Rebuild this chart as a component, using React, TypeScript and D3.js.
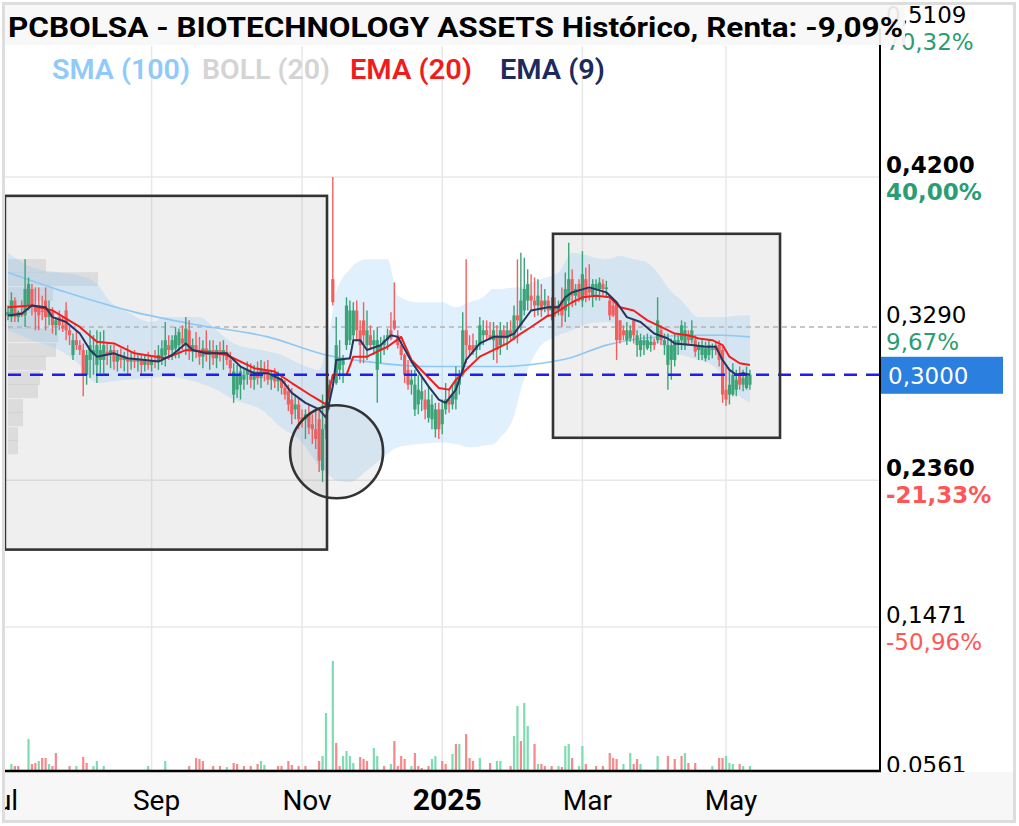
import React from 'react';
import * as d3 from 'd3';

// ---------- daily OHLC (trading-day index 0..217, Jul 2024 – May 2025) ----------
const openP = [
  0.336, 0.335, 0.345, 0.335, 0.338, 0.336, 0.342, 0.352, 0.342, 0.342,
  0.339, 0.345, 0.335, 0.338, 0.330, 0.335, 0.330, 0.339, 0.327, 0.312,
  0.321, 0.318, 0.315, 0.300, 0.309, 0.312, 0.306, 0.309, 0.309, 0.314,
  0.312, 0.315, 0.308, 0.312, 0.309, 0.310, 0.308, 0.310, 0.308, 0.309,
  0.306, 0.308, 0.306, 0.309, 0.308, 0.310, 0.312, 0.318, 0.315, 0.316,
  0.318, 0.322, 0.318, 0.327, 0.315, 0.318, 0.314, 0.311, 0.316, 0.312,
  0.315, 0.310, 0.315, 0.312, 0.314, 0.309, 0.288, 0.291, 0.294, 0.297,
  0.300, 0.302, 0.297, 0.302, 0.298, 0.303, 0.303, 0.297, 0.300, 0.296,
  0.297, 0.292, 0.290, 0.285, 0.279, 0.282, 0.274, 0.273, 0.276, 0.270,
  0.267, 0.273, 0.242, 0.267, 0.285, 0.358, 0.295, 0.303, 0.306, 0.318,
  0.321, 0.324, 0.339, 0.327, 0.333, 0.318, 0.324, 0.318, 0.303, 0.315,
  0.318, 0.321, 0.327, 0.333, 0.324, 0.318, 0.312, 0.303, 0.294, 0.279,
  0.282, 0.285, 0.285, 0.274, 0.273, 0.267, 0.279, 0.270, 0.279, 0.285,
  0.282, 0.285, 0.294, 0.300, 0.327, 0.318, 0.318, 0.315, 0.318, 0.324,
  0.327, 0.324, 0.321, 0.324, 0.318, 0.327, 0.322, 0.327, 0.322, 0.336,
  0.330, 0.339, 0.345, 0.348, 0.345, 0.342, 0.345, 0.342, 0.345, 0.339,
  0.342, 0.339, 0.345, 0.339, 0.345, 0.358, 0.348, 0.355, 0.345, 0.358,
  0.352, 0.348, 0.352, 0.352, 0.355, 0.352, 0.345, 0.342, 0.344, 0.333,
  0.327, 0.321, 0.322, 0.333, 0.318, 0.315, 0.318, 0.316, 0.318, 0.320,
  0.321, 0.327, 0.318, 0.306, 0.309, 0.309, 0.318, 0.321, 0.318, 0.324,
  0.321, 0.321, 0.315, 0.312, 0.310, 0.312, 0.315, 0.318, 0.318, 0.315,
  0.291, 0.288, 0.288, 0.291, 0.300, 0.294, 0.292, 0.294,
];
const highP = [
  0.342, 0.350, 0.347, 0.339, 0.345, 0.370, 0.359, 0.355, 0.353, 0.353,
  0.348, 0.353, 0.345, 0.341, 0.335, 0.339, 0.335, 0.344, 0.330, 0.325,
  0.327, 0.321, 0.319, 0.315, 0.327, 0.324, 0.327, 0.326, 0.327, 0.319,
  0.318, 0.318, 0.315, 0.316, 0.314, 0.318, 0.314, 0.315, 0.312, 0.312,
  0.312, 0.314, 0.312, 0.315, 0.318, 0.321, 0.332, 0.324, 0.324, 0.329,
  0.328, 0.330, 0.335, 0.333, 0.322, 0.326, 0.323, 0.321, 0.327, 0.321,
  0.321, 0.318, 0.320, 0.321, 0.318, 0.314, 0.307, 0.306, 0.305, 0.304,
  0.308, 0.307, 0.306, 0.308, 0.309, 0.308, 0.309, 0.303, 0.304, 0.302,
  0.300, 0.297, 0.294, 0.292, 0.288, 0.286, 0.279, 0.279, 0.282, 0.276,
  0.279, 0.279, 0.288, 0.273, 0.297, 0.420, 0.335, 0.321, 0.312, 0.347,
  0.345, 0.344, 0.345, 0.333, 0.344, 0.339, 0.330, 0.327, 0.329, 0.323,
  0.324, 0.328, 0.338, 0.356, 0.327, 0.321, 0.313, 0.309, 0.303, 0.303,
  0.300, 0.298, 0.291, 0.293, 0.288, 0.283, 0.283, 0.285, 0.295, 0.291,
  0.294, 0.305, 0.303, 0.338, 0.370, 0.324, 0.325, 0.321, 0.335, 0.333,
  0.333, 0.332, 0.332, 0.330, 0.332, 0.330, 0.332, 0.333, 0.342, 0.370,
  0.374, 0.371, 0.364, 0.361, 0.359, 0.358, 0.355, 0.352, 0.348, 0.347,
  0.347, 0.345, 0.353, 0.362, 0.380, 0.364, 0.355, 0.358, 0.375, 0.365,
  0.367, 0.358, 0.358, 0.359, 0.358, 0.357, 0.347, 0.345, 0.344, 0.333,
  0.330, 0.332, 0.330, 0.333, 0.327, 0.325, 0.324, 0.325, 0.324, 0.322,
  0.347, 0.330, 0.325, 0.325, 0.322, 0.325, 0.324, 0.333, 0.332, 0.327,
  0.333, 0.324, 0.320, 0.321, 0.320, 0.321, 0.319, 0.320, 0.321, 0.317,
  0.305, 0.303, 0.307, 0.303, 0.305, 0.303, 0.305, 0.303,
];
const lowP = [
  0.333, 0.332, 0.332, 0.332, 0.335, 0.329, 0.339, 0.336, 0.327, 0.327,
  0.333, 0.327, 0.330, 0.325, 0.324, 0.327, 0.326, 0.321, 0.318, 0.309,
  0.315, 0.312, 0.287, 0.294, 0.298, 0.300, 0.295, 0.301, 0.301, 0.306,
  0.304, 0.303, 0.302, 0.304, 0.302, 0.300, 0.303, 0.304, 0.302, 0.300,
  0.302, 0.303, 0.302, 0.304, 0.303, 0.306, 0.305, 0.309, 0.309, 0.310,
  0.310, 0.315, 0.312, 0.309, 0.308, 0.310, 0.306, 0.304, 0.308, 0.303,
  0.306, 0.304, 0.308, 0.303, 0.306, 0.300, 0.283, 0.286, 0.285, 0.291,
  0.294, 0.292, 0.291, 0.294, 0.292, 0.296, 0.294, 0.291, 0.292, 0.290,
  0.288, 0.285, 0.278, 0.270, 0.273, 0.267, 0.268, 0.261, 0.264, 0.258,
  0.255, 0.241, 0.235, 0.261, 0.279, 0.342, 0.294, 0.297, 0.295, 0.315,
  0.318, 0.319, 0.321, 0.307, 0.307, 0.309, 0.315, 0.312, 0.283, 0.307,
  0.312, 0.315, 0.321, 0.327, 0.316, 0.309, 0.295, 0.291, 0.288, 0.275,
  0.276, 0.278, 0.273, 0.271, 0.267, 0.262, 0.261, 0.264, 0.276, 0.277,
  0.279, 0.279, 0.288, 0.299, 0.307, 0.312, 0.312, 0.310, 0.315, 0.318,
  0.321, 0.321, 0.309, 0.307, 0.312, 0.318, 0.315, 0.321, 0.321, 0.319,
  0.327, 0.336, 0.339, 0.339, 0.335, 0.336, 0.335, 0.338, 0.335, 0.333,
  0.335, 0.336, 0.329, 0.332, 0.335, 0.341, 0.342, 0.344, 0.341, 0.344,
  0.345, 0.341, 0.345, 0.345, 0.348, 0.347, 0.333, 0.335, 0.309, 0.319,
  0.321, 0.318, 0.320, 0.319, 0.311, 0.311, 0.312, 0.315, 0.314, 0.315,
  0.319, 0.318, 0.312, 0.291, 0.297, 0.305, 0.312, 0.315, 0.315, 0.318,
  0.319, 0.311, 0.309, 0.309, 0.308, 0.309, 0.310, 0.312, 0.305, 0.283,
  0.281, 0.282, 0.287, 0.287, 0.291, 0.290, 0.291, 0.291,
];
const closeP = [
  0.338, 0.345, 0.335, 0.338, 0.336, 0.352, 0.355, 0.342, 0.338, 0.336,
  0.338, 0.335, 0.339, 0.330, 0.333, 0.330, 0.328, 0.327, 0.324, 0.321,
  0.318, 0.315, 0.300, 0.312, 0.318, 0.315, 0.318, 0.315, 0.318, 0.312,
  0.315, 0.308, 0.312, 0.309, 0.311, 0.308, 0.310, 0.308, 0.309, 0.306,
  0.309, 0.306, 0.309, 0.308, 0.312, 0.316, 0.321, 0.315, 0.321, 0.324,
  0.326, 0.319, 0.328, 0.315, 0.318, 0.314, 0.311, 0.316, 0.312, 0.315,
  0.310, 0.315, 0.312, 0.315, 0.309, 0.304, 0.302, 0.300, 0.302, 0.300,
  0.303, 0.297, 0.302, 0.298, 0.304, 0.300, 0.297, 0.300, 0.296, 0.298,
  0.292, 0.288, 0.282, 0.276, 0.282, 0.273, 0.272, 0.276, 0.268, 0.267,
  0.261, 0.248, 0.267, 0.270, 0.294, 0.344, 0.318, 0.310, 0.309, 0.342,
  0.339, 0.339, 0.327, 0.318, 0.324, 0.327, 0.318, 0.321, 0.321, 0.318,
  0.321, 0.324, 0.322, 0.328, 0.318, 0.312, 0.300, 0.294, 0.297, 0.294,
  0.291, 0.290, 0.279, 0.285, 0.282, 0.279, 0.267, 0.279, 0.285, 0.282,
  0.288, 0.297, 0.300, 0.327, 0.318, 0.315, 0.314, 0.318, 0.330, 0.327,
  0.324, 0.322, 0.327, 0.315, 0.327, 0.322, 0.327, 0.324, 0.336, 0.333,
  0.345, 0.352, 0.355, 0.345, 0.342, 0.348, 0.339, 0.345, 0.339, 0.342,
  0.339, 0.342, 0.336, 0.352, 0.358, 0.348, 0.352, 0.347, 0.361, 0.348,
  0.350, 0.355, 0.355, 0.356, 0.352, 0.353, 0.336, 0.336, 0.321, 0.321,
  0.324, 0.327, 0.327, 0.324, 0.324, 0.321, 0.321, 0.321, 0.320, 0.318,
  0.333, 0.321, 0.321, 0.318, 0.318, 0.321, 0.321, 0.330, 0.327, 0.321,
  0.327, 0.314, 0.318, 0.318, 0.316, 0.318, 0.316, 0.315, 0.309, 0.288,
  0.285, 0.294, 0.300, 0.297, 0.294, 0.298, 0.300, 0.300,
];

// ---------- volume (day index, volume, 1 = up / 0 = down) ----------
const volDay = [1, 2, 3, 6, 7, 8, 9, 10, 11, 12, 13, 14, 18, 20, 22, 23, 25, 26, 28, 41, 46, 53, 55, 56, 57, 60, 62, 64, 66, 67, 69, 71, 73, 74, 75, 79, 80, 82, 83, 85, 87, 91, 92, 93, 95, 96, 97, 98, 99, 100, 101, 103, 104, 105, 107, 108, 110, 112, 113, 114, 115, 116, 118, 119, 120, 121, 123, 124, 125, 127, 128, 130, 131, 132, 134, 135, 136, 138, 141, 143, 144, 147, 148, 149, 150, 151, 152, 154, 155, 156, 157, 159, 161, 162, 163, 164, 165, 167, 168, 169, 172, 174, 176, 177, 178, 180, 182, 183, 184, 185, 190, 193, 195, 197, 198, 199, 201, 206, 208, 209, 210, 211, 212, 214, 215, 217];
const volAmt = [7, 5, 5, 32, 7, 8, 10, 13, 13, 7, 5, 18, 5, 5, 14, 8, 5, 10, 5, 5, 10, 5, 13, 12, 10, 5, 5, 4, 8, 7, 5, 5, 7, 10, 6, 5, 5, 10, 6, 5, 5, 10, 15, 58, 110, 28, 5, 15, 20, 15, 8, 14, 12, 10, 23, 15, 5, 7, 30, 5, 15, 12, 5, 18, 5, 3, 5, 12, 15, 10, 7, 17, 27, 27, 37, 13, 10, 13, 8, 10, 10, 5, 35, 65, 30, 68, 45, 27, 7, 7, 5, 5, 5, 4, 25, 27, 13, 5, 25, 7, 5, 5, 18, 13, 12, 7, 18, 7, 12, 7, 15, 15, 12, 15, 18, 8, 8, 5, 13, 13, 15, 8, 7, 7, 5, 5];
const volUp = [1, 0, 0, 1, 0, 0, 1, 0, 0, 1, 0, 0, 0, 1, 0, 0, 1, 1, 1, 1, 1, 0, 0, 0, 0, 0, 0, 1, 0, 0, 0, 0, 0, 1, 1, 0, 0, 0, 0, 0, 0, 0, 1, 1, 1, 0, 0, 1, 1, 1, 1, 0, 0, 0, 1, 1, 0, 1, 0, 0, 0, 0, 1, 0, 0, 0, 0, 1, 1, 0, 0, 1, 0, 1, 0, 0, 0, 1, 0, 1, 1, 0, 1, 1, 0, 1, 1, 0, 1, 0, 0, 0, 1, 0, 1, 1, 0, 1, 1, 0, 0, 0, 0, 0, 0, 1, 1, 0, 0, 1, 1, 0, 0, 0, 1, 0, 0, 1, 0, 0, 1, 1, 1, 0, 1, 1];

// ---------- indicators ----------
const ema9Day = [0, 4, 7, 11, 13, 17, 21, 24, 26, 31, 35, 40, 44, 48, 52, 54, 58, 64, 68, 72, 76, 80, 83, 87, 91, 93, 95, 96, 100, 101, 103, 105, 109, 112, 114, 118, 123, 126, 128, 131, 134, 138, 142, 146, 148, 153, 158, 161, 163, 165, 170, 175, 178, 181, 185, 189, 193, 195, 200, 204, 207, 209, 211, 213, 215, 217];
const ema9Val = [0.336, 0.337, 0.342, 0.341, 0.335, 0.332, 0.325, 0.315, 0.311, 0.313, 0.310, 0.309, 0.308, 0.312, 0.319, 0.315, 0.313, 0.313, 0.305, 0.301, 0.301, 0.297, 0.289, 0.283, 0.279, 0.274, 0.293, 0.309, 0.310, 0.321, 0.321, 0.315, 0.318, 0.324, 0.323, 0.308, 0.293, 0.285, 0.283, 0.291, 0.309, 0.319, 0.323, 0.323, 0.325, 0.339, 0.341, 0.341, 0.347, 0.350, 0.353, 0.350, 0.344, 0.335, 0.332, 0.325, 0.322, 0.319, 0.318, 0.317, 0.317, 0.309, 0.303, 0.300, 0.301, 0.300];
const ema20Day = [0, 7, 13, 21, 26, 31, 37, 46, 52, 58, 64, 72, 78, 83, 89, 93, 95, 99, 101, 105, 108, 111, 115, 118, 126, 129, 131, 134, 138, 146, 150, 153, 158, 159, 165, 168, 172, 176, 179, 183, 187, 191, 195, 199, 202, 206, 209, 211, 214, 217];
const ema20Val = [0.341, 0.342, 0.339, 0.329, 0.320, 0.319, 0.313, 0.310, 0.315, 0.314, 0.312, 0.304, 0.302, 0.295, 0.287, 0.282, 0.300, 0.300, 0.311, 0.311, 0.314, 0.317, 0.323, 0.309, 0.292, 0.291, 0.297, 0.303, 0.311, 0.319, 0.325, 0.329, 0.336, 0.336, 0.344, 0.347, 0.348, 0.347, 0.341, 0.339, 0.333, 0.329, 0.325, 0.324, 0.322, 0.321, 0.318, 0.311, 0.307, 0.306];
const sma100Day = [0, 17, 37, 56, 76, 93, 105, 124, 144, 156, 164, 175, 185, 202, 209, 217];
const sma100Val = [0.362, 0.350, 0.338, 0.330, 0.323, 0.312, 0.308, 0.305, 0.305, 0.307, 0.310, 0.318, 0.322, 0.324, 0.324, 0.323];
const bollDay = [0, 7, 15, 21, 26, 30, 35, 42, 46, 56, 61, 66, 74, 80, 85, 91, 94, 96, 100, 105, 111, 114, 120, 127, 131, 135, 139, 142, 144, 148, 150, 152, 156, 159, 161, 165, 168, 175, 179, 183, 187, 191, 193, 197, 202, 206, 209, 214, 217];
const bollUpper = [0.374, 0.365, 0.362, 0.360, 0.355, 0.344, 0.338, 0.332, 0.335, 0.335, 0.327, 0.319, 0.315, 0.312, 0.307, 0.303, 0.327, 0.350, 0.364, 0.370, 0.370, 0.348, 0.344, 0.344, 0.341, 0.344, 0.347, 0.352, 0.352, 0.353, 0.353, 0.355, 0.358, 0.360, 0.362, 0.374, 0.373, 0.370, 0.372, 0.370, 0.368, 0.359, 0.353, 0.345, 0.335, 0.335, 0.335, 0.336, 0.336];
const bollLower = [0.327, 0.321, 0.315, 0.306, 0.295, 0.296, 0.297, 0.298, 0.299, 0.295, 0.291, 0.285, 0.279, 0.268, 0.261, 0.245, 0.239, 0.236, 0.235, 0.242, 0.252, 0.256, 0.258, 0.259, 0.258, 0.256, 0.257, 0.258, 0.262, 0.275, 0.291, 0.303, 0.318, 0.322, 0.324, 0.327, 0.330, 0.332, 0.330, 0.327, 0.321, 0.318, 0.315, 0.312, 0.309, 0.306, 0.300, 0.287, 0.283];

// ---------- volume profile (price level, volume) ----------
const profilePrice = [0.366, 0.358, 0.349, 0.341, 0.332, 0.324, 0.315, 0.307, 0.298, 0.290, 0.281, 0.273, 0.264, 0.256];
const profileVol = [38, 90, 45, 28, 30, 50, 48, 38, 32, 30, 15, 15, 10, 10];

// ---------- axes ----------
const monthLabel = ['Jul', 'Sep', 'Nov', '2025', 'Mar', 'May'];
const monthDay = [-4, 42, 86, 127, 168, 210];
const priceTick = [0.5109, 0.42, 0.329, 0.236, 0.1471, 0.0561];
const priceTickText = ['0,5109', '0,4200', '0,3290', '0,2360', '0,1471', '0.0561'];
const pctText = ['70,32%', '40,00%', '9,67%', '-21,33%', '-50,96%', ''];
const tickStrong = [false, true, false, true, false, false];
const lastPrice = 0.3;
const lastPriceText = '0,3000';

// ---------- drawn annotations (day index / price) ----------
const boxStartDay = [-0.9, 159.4];
const boxEndDay = [93.3, 225.8];
const boxTopPrice = [0.4085, 0.3855];
const boxBottomPrice = [0.194, 0.2618];
const circleDay = 96.1;
const circlePrice = 0.2533;
const circleRadiusPrice = 0.0282;

const legendText = ['SMA (100)', 'BOLL (20)', 'EMA (20)', 'EMA (9)'];
const legendColor = ['#90caf9', '#d4d4d4', '#f01c1c', '#1c2a5c'];

const GREEN = '#3aa478';
const RED = '#f25f5f';
const VGREEN = '#7edbb2';
const VRED = '#f48a8a';

export default function App() {
  const x = d3.scaleLinear().domain([0, 210]).range([8, 726]);
  const y = d3.scaleLinear().domain([0.0561, 0.5109]).range([777, 27]);
  const vy = d3.scaleLinear().domain([0, 115]).range([771, 656]);
  const pw = d3.scaleLinear().domain([0, 100]).range([0, 100]);

  const pairs = (a: number[], b: number[]) => a.map((d, k) => [d, b[k]] as [number, number]);
  const line = d3.line<[number, number]>().x(d => x(d[0])).y(d => y(d[1]));
  const band = d3.area<number>()
    .x(d => x(d))
    .y0((_, k) => y(bollLower[k]))
    .y1((_, k) => y(bollUpper[k]))
    .curve(d3.curveMonotoneX);
  const smooth = d3.line<[number, number]>().x(d => x(d[0])).y(d => y(d[1])).curve(d3.curveMonotoneX);

  const plotL = 5, plotR = 880, plotT = 46, plotB = 771;
  const legendX = [52, 202, 350, 500];
  const legendW = [138, 128, 122, 105];

  return (
    <svg width={1019} height={826} style={{ position: 'absolute', left: 0, top: 0, background: '#fff' }}
      xmlns="http://www.w3.org/2000/svg">
      <defs>
        <clipPath id="plot"><rect x={plotL} y={plotT} width={plotR - plotL} height={plotB - plotT} /></clipPath>
        <clipPath id="xaxis"><rect x={5} y={772} width={1009} height={48} /></clipPath>
      </defs>
      <rect x={0} y={0} width={1019} height={826} fill="#fff" />

      {/* grid */}
      {monthDay.map((d, k) => (
        <line key={'vg' + k} x1={x(d)} x2={x(d)} y1={plotT} y2={plotB} stroke="#e8e8e8" strokeWidth={1.5} />
      ))}
      {priceTick.map((p, k) => (
        k === 0 || k === 5 || k === 2 ? null :
          <line key={'hg' + k} x1={plotL} x2={plotR} y1={y(p)} y2={y(p)} stroke="#e8e8e8" strokeWidth={1.5} />
      ))}

      <g clipPath="url(#plot)">
        {/* annotation fills */}
        {boxStartDay.map((d, k) => (
          <rect key={'bf' + k} x={x(d)} y={y(boxTopPrice[k])} width={x(boxEndDay[k]) - x(d)}
            height={y(boxBottomPrice[k]) - y(boxTopPrice[k])} fill="#808080" fillOpacity={0.125} />
        ))}
        {/* volume profile */}
        {profilePrice.map((p, k) => (
          <rect key={'vp' + k} x={8} y={y(p + 0.0042)} width={pw(profileVol[k])}
            height={y(p - 0.0042) - y(p + 0.0042)} fill="#999" fillOpacity={0.22} />
        ))}
        {/* bollinger band */}
        <path d={band(bollDay) || ''} fill="#90caf9" fillOpacity={0.28} stroke="none" />
        {/* 0.329 dashed */}
        <line x1={8} x2={plotR} y1={y(0.329)} y2={y(0.329)} stroke="#b4b4b4" strokeWidth={1.5} strokeDasharray="5 4" />
        {/* SMA 100 */}
        <path d={smooth(pairs(sma100Day, sma100Val)) || ''} fill="none" stroke="#8ec8f4" strokeWidth={1.6} />
        {/* volume bars */}
        {volDay.map((d, k) => (
          <rect key={'v' + k} x={x(d) - 1.1} y={vy(volAmt[k])} width={2.2} height={vy(0) - vy(volAmt[k])}
            fill={volUp[k] ? VGREEN : VRED} />
        ))}
        {/* candles */}
        {closeP.map((c, i) => {
          const o = openP[i];
          const up = c >= o;
          const col = up ? GREEN : RED;
          const top = y(Math.max(o, c));
          const bot = y(Math.min(o, c));
          const hi = y(Math.max(highP[i], o, c));
          const lo = y(Math.min(lowP[i], o, c));
          return (
            <g key={'c' + i}>
              <line x1={x(i)} x2={x(i)} y1={hi} y2={lo} stroke={col} strokeWidth={1.4} />
              <rect x={x(i) - 1.6} y={top} width={3.2} height={Math.max(1.2, bot - top)} fill={col} />
            </g>
          );
        })}
        {/* EMAs */}
        <path d={line(pairs(ema20Day, ema20Val)) || ''} fill="none" stroke="#f21e1e" strokeWidth={2} strokeLinejoin="round" />
        <path d={line(pairs(ema9Day, ema9Val)) || ''} fill="none" stroke="#27355f" strokeWidth={2} strokeLinejoin="round" />
        {/* last price line */}
        <line x1={8} x2={plotR} y1={y(lastPrice)} y2={y(lastPrice)} stroke="#1e1ef0" strokeWidth={2.6} strokeDasharray="13 9" />
        {/* annotation outlines */}
        {boxStartDay.map((d, k) => (
          <rect key={'bs' + k} x={x(d)} y={y(boxTopPrice[k])} width={x(boxEndDay[k]) - x(d)}
            height={y(boxBottomPrice[k]) - y(boxTopPrice[k])} fill="none" stroke="#333" strokeWidth={2.6} />
        ))}
        <circle cx={x(circleDay)} cy={y(circlePrice)} r={y(circlePrice - circleRadiusPrice) - y(circlePrice)}
          fill="#808080" fillOpacity={0.1} stroke="#333" strokeWidth={2.6} />
      </g>

      {/* right axis labels */}
      {priceTick.map((p, k) => (
        <g key={'pt' + k}>
          <text x={886} y={y(p) - 4} fontFamily="DejaVu Sans" fontSize={23} fontWeight={tickStrong[k] ? 700 : 400} fill="#000">
            {priceTickText[k]}
          </text>
          {pctText[k] && (
            <text x={886} y={y(p) + 23} fontFamily="DejaVu Sans" fontSize={23} fontWeight={tickStrong[k] ? 700 : 400}
              fill={p >= lastPrice ? '#2a9d74' : '#ff5757'}>
              {pctText[k]}
            </text>
          )}
        </g>
      ))}
      <rect x={880} y={y(lastPrice) - 18} width={123} height={37} fill="#2a7fdf" />
      <text x={888} y={y(lastPrice) + 9} fontFamily="DejaVu Sans" fontSize={23} fill="#fff">{lastPriceText}</text>

      {/* x axis band */}
      <rect x={5} y={772} width={1009} height={48} fill="#f7f7f7" />
      <g clipPath="url(#xaxis)">
        {monthDay.map((d, k) => (
          <text key={'ml' + k} x={x(d) + 5} y={810} textAnchor="middle" fontFamily="Roboto"
            fontSize={monthLabel[k] === '2025' ? 30 : 28} fontWeight={monthLabel[k] === '2025' ? 700 : 400} fill="#000">
            {monthLabel[k]}
          </text>
        ))}
      </g>

      {/* axis lines */}
      <line x1={880} x2={880} y1={28} y2={772} stroke="#000" strokeWidth={2} />
      <line x1={5} x2={881} y1={771} y2={771} stroke="#000" strokeWidth={2.5} />

      {/* title */}
      <rect x={5} y={5} width={900} height={40} fill="#f7f7f7" fillOpacity={0.92} />
      <text x={8} y={37} fontFamily="Roboto" fontWeight={700} fontSize={28} fill="#000"
        textLength={895} lengthAdjust="spacingAndGlyphs">
        PCBOLSA - BIOTECHNOLOGY ASSETS Histórico, Renta: -9,09%
      </text>
      {/* legend */}
      {legendText.map((t, k) => (
        <text key={'lg' + k} x={legendX[k]} y={79} fontFamily="Roboto" fontWeight={600} fontSize={27}
          fill={legendColor[k]} textLength={legendW[k]} lengthAdjust="spacingAndGlyphs">{t}</text>
      ))}

      {/* outer frame */}
      <rect x={3.5} y={3.5} width={1011} height={818} fill="none" stroke="#dddddd" strokeWidth={3} />
    </svg>
  );
}
